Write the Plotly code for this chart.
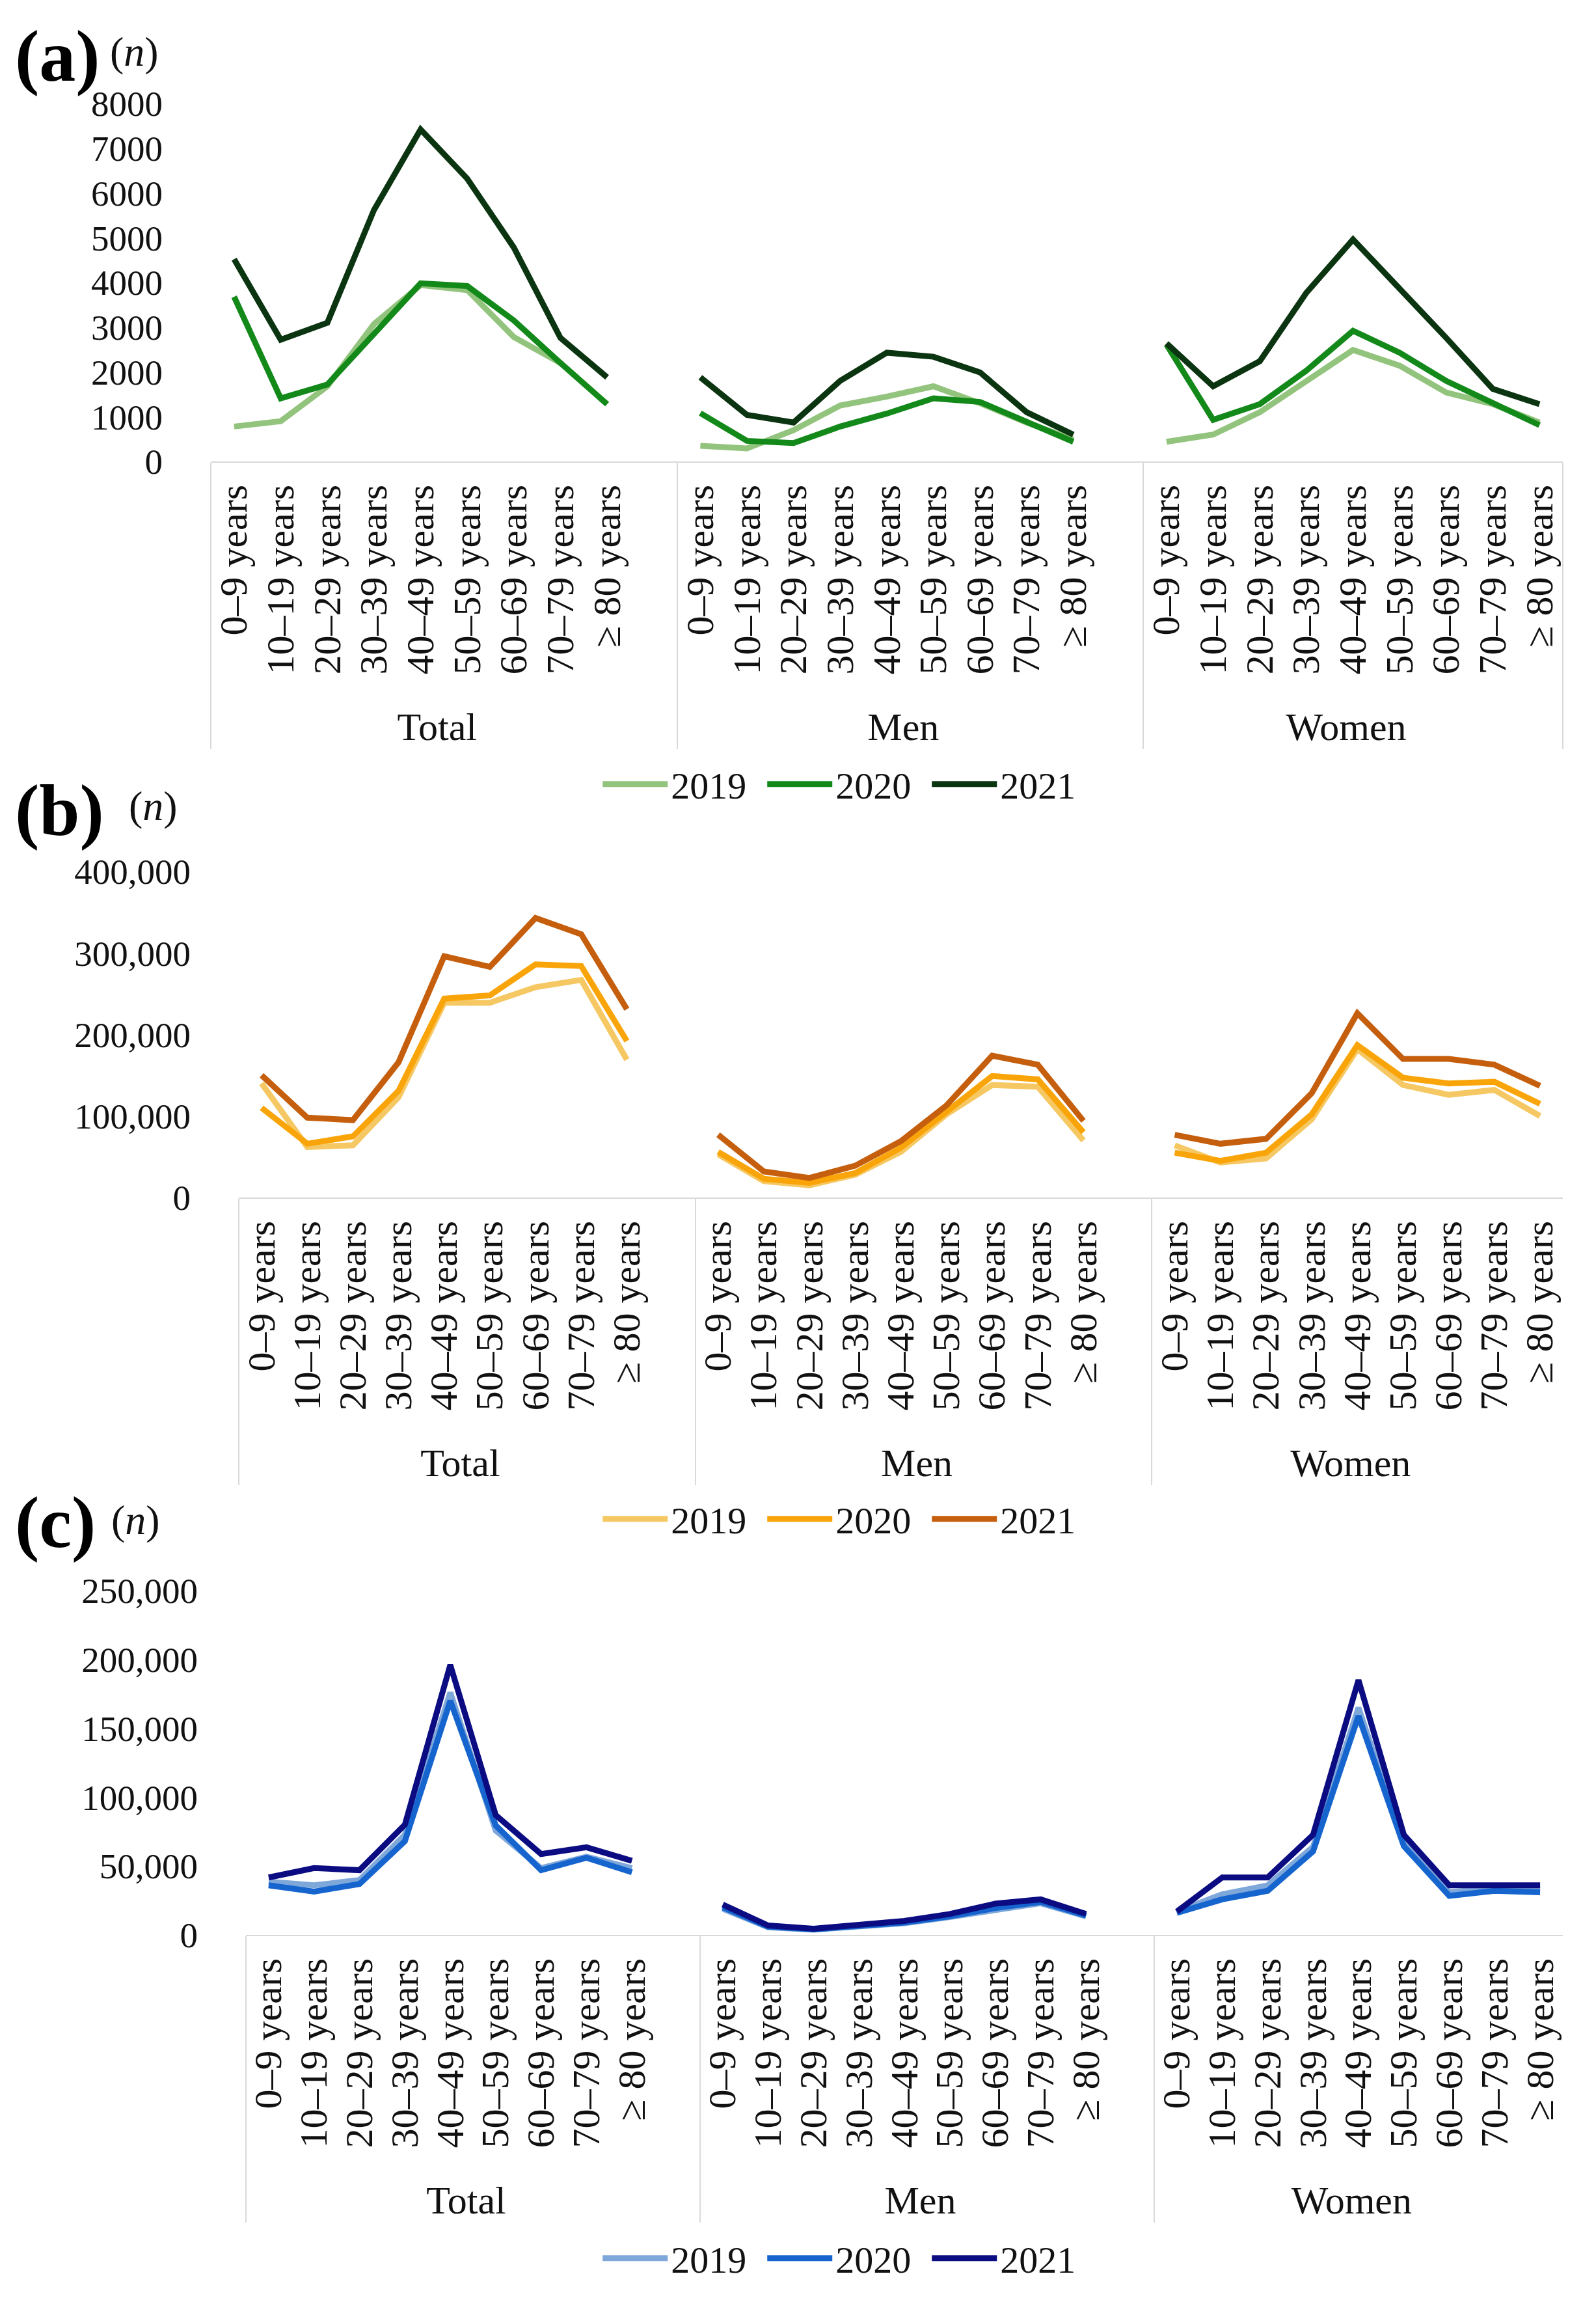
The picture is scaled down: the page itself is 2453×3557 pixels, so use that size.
import plotly.graph_objects as go

ages = ["0–9 years", "10–19 years", "20–29 years", "30–39 years", "40–49 years",
        "50–59 years", "60–69 years", "70–79 years", "≥ 80 years"]
groups = ["Total", "Men", "Women"]
years = ["2019", "2020", "2021"]

# (a)
a_total_2019 = [780, 900, 1680, 3070, 3940, 3830, 2780, 2200, 1280]
a_total_2020 = [3680, 1410, 1720, 2840, 3980, 3920, 3150, 2200, 1280]
a_total_2021 = [4520, 2720, 3100, 5620, 7420, 6320, 4780, 2760, 1880]
a_men_2019 = [350, 290, 700, 1250, 1450, 1680, 1300, 870, 490]
a_men_2020 = [1080, 460, 410, 780, 1070, 1410, 1330, 870, 440]
a_men_2021 = [1880, 1040, 870, 1800, 2430, 2340, 1990, 1100, 600]
a_women_2019 = [440, 600, 1100, 1800, 2490, 2140, 1540, 1280, 870]
a_women_2020 = [2610, 930, 1280, 2030, 2920, 2430, 1800, 1300, 810]
a_women_2021 = [2640, 1680, 2240, 3770, 4960, 3880, 2760, 1620, 1280]

# (b)
b_total_2019 = [140000, 62000, 64000, 123000, 239000, 239000, 258000, 267000, 169000]
b_total_2020 = [110000, 66000, 75000, 131000, 244000, 248000, 286000, 284000, 192000]
b_total_2021 = [150000, 98000, 95000, 166000, 296000, 283000, 343000, 323000, 231000]
b_men_2019 = [53000, 20000, 15000, 28000, 56000, 102000, 138000, 136000, 70000]
b_men_2020 = [56000, 23000, 18000, 30000, 61000, 105000, 149000, 145000, 80000]
b_men_2021 = [77000, 32000, 24000, 39000, 69000, 113000, 174000, 163000, 94000]
b_women_2019 = [64000, 43000, 48000, 96000, 182000, 138000, 126000, 132000, 100000]
b_women_2020 = [55000, 45000, 55000, 102000, 187000, 147000, 140000, 142000, 115000]
b_women_2021 = [77000, 66000, 72000, 128000, 226000, 170000, 170000, 163000, 137000]

# (c)
c_total_2019 = [38600, 36000, 39800, 72700, 176000, 75800, 48500, 56800, 48500]
c_total_2020 = [36000, 31400, 37000, 68000, 170000, 79500, 47000, 56000, 45500]
c_total_2021 = [41700, 48500, 47000, 80000, 196000, 87000, 58700, 63600, 53800]
c_men_2019 = [19000, 5500, 3800, 6000, 8500, 13000, 18000, 23000, 13500]
c_men_2020 = [20000, 6000, 4000, 6500, 9000, 13500, 19500, 24000, 14000]
c_men_2021 = [22000, 6800, 4500, 7600, 10200, 15200, 22700, 25800, 15200]
c_women_2019 = [17000, 29500, 36000, 64000, 165000, 67000, 31000, 34000, 33000]
c_women_2020 = [16000, 25800, 32000, 60600, 159000, 64400, 28400, 32000, 31000]
c_women_2021 = [17000, 41700, 41700, 72700, 185000, 72700, 36000, 36000, 36000]

greens = ["#93c47d", "#13891a", "#0b3410"]
oranges = ["#f6c863", "#f9a50a", "#c55f0e"]
blues = ["#7ea7da", "#1665cf", "#0b0c82"]

FONT = "Liberation Serif"
W, H = 2453, 3557
OX, OY = 9, 8  # page offset of the plot div

# x positions: a blank slot after Total and Men, like the source sheet
xg = ["Total"] * 10 + ["Men"] * 10 + ["Women"] * 9
xa = ages + [" "] + ages + [" "] + ages


def series(total, men, women):
    return total + [None] + men + [None] + women


panels = [
    ("", [(a_total_2019, a_men_2019, a_women_2019),
          (a_total_2020, a_men_2020, a_women_2020),
          (a_total_2021, a_men_2021, a_women_2021)], greens, "legend"),
    ("2", [(b_total_2019, b_men_2019, b_women_2019),
           (b_total_2020, b_men_2020, b_women_2020),
           (b_total_2021, b_men_2021, b_women_2021)], oranges, "legend2"),
    ("3", [(c_total_2019, c_men_2019, c_women_2019),
           (c_total_2020, c_men_2020, c_women_2020),
           (c_total_2021, c_men_2021, c_women_2021)], blues, "legend3"),
]

fig = go.Figure()
for suffix, data, cols, leg in panels:
    for yr, d, col in zip(years, data, cols):
        fig.add_trace(go.Scatter(
            x=[xg, xa], y=series(*d), name=yr, mode="lines",
            line=dict(color=col, width=9),
            connectgaps=False, legend=leg,
            xaxis="x" + suffix, yaxis="y" + suffix))


def px_x(p):
    return (p - OX) / W


def px_y(p):
    return 1 - (p - OY) / H


def xaxis(left, anchor):
    return dict(
        domain=[px_x(left), px_x(2403)], anchor=anchor, type="multicategory",
        range=[-0.5, 28.5], nticks=60, showline=True, linecolor="#d9d9d9",
        linewidth=2, showdividers=True, dividercolor="#d9d9d9", dividerwidth=2,
        tickangle=-90, showgrid=False, zeroline=False, automargin=False,
        ticks="", ticklabelstandoff=10,
        tickfont=dict(family=FONT, size=60, color="#111"))


def yaxis(top, bottom, rng, dtick, fmt, anchor):
    return dict(
        domain=[px_y(bottom), px_y(top)], anchor=anchor, range=rng, dtick=dtick,
        tickformat=fmt, showgrid=False, zeroline=False, showline=False,
        automargin=False,
        ticks="outside", ticklen=62, tickcolor="rgba(0,0,0,0)",
        tickfont=dict(family=FONT, size=55, color="#111"))


def legend(ypix):
    return dict(orientation="h", x=0.527, xanchor="center", y=px_y(ypix),
                yanchor="middle", font=dict(family=FONT, size=58, color="#111"),
                entrywidth=138, entrywidthmode="pixels", itemwidth=100,
                bgcolor="rgba(0,0,0,0)")


fig.update_layout(
    width=W, height=H,
    margin=dict(l=0, r=0, t=0, b=0, pad=0),
    plot_bgcolor="white", paper_bgcolor="white",
    font=dict(family=FONT, color="#111"),
    xaxis=xaxis(325, "y"),
    yaxis=yaxis(159, 709, [0, 8000], 1000, "d", "x"),
    xaxis2=xaxis(368, "y2"),
    yaxis2=yaxis(1339, 1840, [0, 400000], 100000, ",d", "x2"),
    xaxis3=xaxis(379, "y3"),
    yaxis3=yaxis(2444, 2973, [0, 250000], 50000, ",d", "x3"),
    legend=legend(1205),
    legend2=legend(2334),
    legend3=legend(3470),
)

labels = [("(a)", 86, 207, 80), ("(b)", 1245, 236, 1238), ("(c)", 2339, 209, 2335)]
for lab, ly, nx, ny in labels:
    fig.add_annotation(x=px_x(22), y=px_y(ly), xref="paper", yref="paper",
                       xanchor="left", yanchor="middle", showarrow=False,
                       text="<b>" + lab + "</b>",
                       font=dict(family=FONT, size=112, color="#000"))
    fig.add_annotation(x=px_x(nx), y=px_y(ny), xref="paper", yref="paper",
                       xanchor="center", yanchor="middle", showarrow=False,
                       text="(<i>n</i>)",
                       font=dict(family=FONT, size=64, color="#111"))

fig.write_html("out.html")
